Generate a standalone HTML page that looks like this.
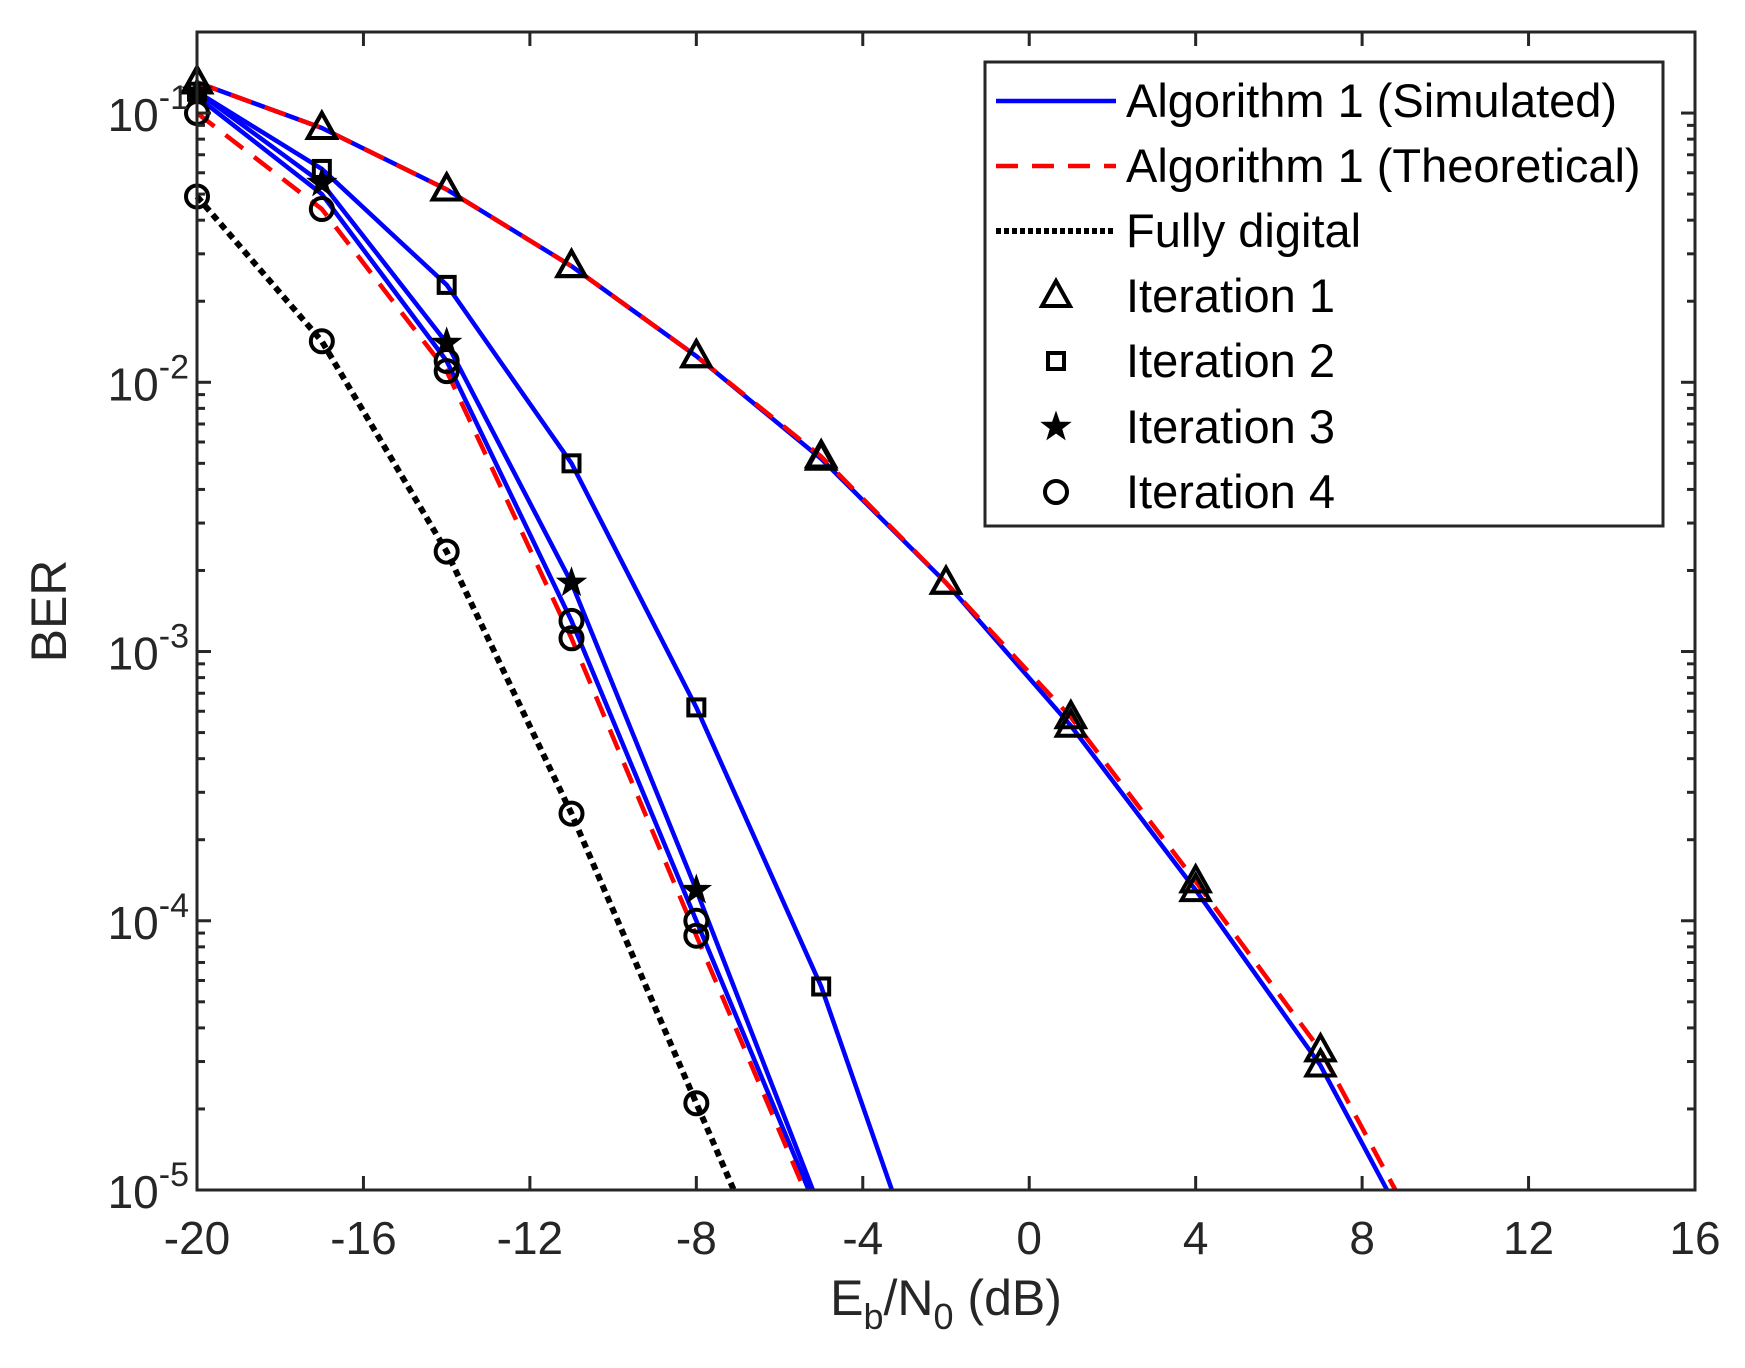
<!DOCTYPE html>
<html><head><meta charset="utf-8"><style>
html,body{margin:0;padding:0;background:#fff}
svg{display:block;font-family:"Liberation Sans",Arial,sans-serif}
</style></head><body>
<svg id="chart" width="1745" height="1368" viewBox="0 0 1745 1368" xmlns="http://www.w3.org/2000/svg">
<rect width="1745" height="1368" fill="#fff"/>
<g id="series"></g>
<g id="axes"></g>
<g id="legend"></g>
</svg>
<script>
const xTicks = [-20,-16,-12,-8,-4,0,4,8,12,16];
const yDecades = [-5,-4,-3,-2,-1];
const xPts = [-20,-17,-14,-11,-8,-5,-2,1,4,7];
const it1Sim = [0.13,0.088,0.052,0.027,0.0125,0.0052,0.0018,0.00053,0.00013,0.000029];
const it1SimEnd = [8.6,0.00001];
const it1Th = [0.13,0.088,0.052,0.027,0.0125,0.0053,0.0018,0.00057,0.00014,0.000033];
const it1ThEnd = [8.8,0.00001];
const x5 = [-20,-17,-14,-11,-8,-5];
const it2Sim = [0.12,0.062,0.023,0.005,0.00062,0.000057];
const it2End = [-3.3,0.00001];
const x4 = [-20,-17,-14,-11,-8];
const it3Sim = [0.12,0.055,0.014,0.0018,0.00013];
const it3End = [-5.2,0.00001];
const it4Sim = [0.115,0.05,0.012,0.0013,0.0001];
const it4End = [-5.3,0.00001];
const it4Th = [0.1,0.044,0.011,0.00112,0.000088];
const it4ThEnd = [-5.4,0.00001];
const fdVals = [0.049,0.0142,0.00235,0.00025,0.000021];
const fdEnd = [-7.1,0.00001];

const L=197,R=1695,T=32,B=1190;
const xMin=-20,xMax=16,yMinL=-5,yMaxL=Math.log10(0.2);
const X=v=>L+(v-xMin)/(xMax-xMin)*(R-L);
const Y=v=>B-(Math.log10(v)-yMinL)/(yMaxL-yMinL)*(B-T);
const NS="http://www.w3.org/2000/svg";
function mk(tag,attrs,parent){const e=document.createElementNS(NS,tag);for(const k in attrs)e.setAttribute(k,attrs[k]);parent.appendChild(e);return e;}
const gS=document.getElementById('series'),gA=document.getElementById('axes'),gL=document.getElementById('legend');

function line(xs,ys,end,stroke,dash,name,w){
  const pts=xs.map((x,i)=>X(x)+','+Y(ys[i]));
  if(end)pts.push(X(end[0])+','+Y(end[1]));
  const p=mk('polyline',{points:pts.join(' '),fill:'none',stroke:stroke,'stroke-width':w||4.5,'stroke-dasharray':dash||'none'},gS);
  
  
}
function marker(type,cx,cy,parent,name){
  let e;
  if(type==='tri')e=mk('polygon',{points:`${cx},${cy-15} ${cx-14},${cy+10} ${cx+14},${cy+10}`,fill:'none',stroke:'#000','stroke-width':4},parent);
  else if(type==='sq')e=mk('rect',{x:cx-8,y:cy-8,width:16,height:16,fill:'none',stroke:'#000','stroke-width':4},parent);
  else if(type==='circ')e=mk('circle',{cx:cx,cy:cy,r:11,fill:'none',stroke:'#000','stroke-width':4},parent);
  else {const p=[];for(let i=0;i<10;i++){const r=i%2?6:15,a=-Math.PI/2+i*Math.PI/5;p.push((cx+r*Math.cos(a))+','+(cy+r*Math.sin(a)));}
    e=mk('polygon',{points:p.join(' '),fill:'#000',stroke:'#000','stroke-width':1},parent);}
  
  
}
line(xPts,it1Sim,it1SimEnd,'#0000ff',null,'iteration1-simulated-line');
line(xPts,it1Th,it1ThEnd,'#ff0000','22 14','iteration1-theoretical-line');
line(x5,it2Sim,it2End,'#0000ff',null,'iteration2-simulated-line');
line(x4,it3Sim,it3End,'#0000ff',null,'iteration3-simulated-line');
line(x4,it4Sim,it4End,'#0000ff',null,'iteration4-simulated-line');
line(x4,it4Th,it4ThEnd,'#ff0000','22 14','iteration4-theoretical-line');
line(x4,fdVals,fdEnd,'#000','7 5','fully-digital-line',6);
xPts.forEach((x,i)=>{marker('tri',X(x),Y(it1Sim[i]),gS,'iteration1-sim-marker');marker('tri',X(x),Y(it1Th[i]),gS,'iteration1-th-marker');});
x5.forEach((x,i)=>marker('sq',X(x),Y(it2Sim[i]),gS,'iteration2-marker'));
x4.forEach((x,i)=>marker('star',X(x),Y(it3Sim[i]),gS,'iteration3-marker'));
x4.forEach((x,i)=>{marker('circ',X(x),Y(it4Th[i]),gS,'iteration4-marker');});
x4.slice(2).forEach((x,i)=>marker('circ',X(x),Y(it4Sim[i+2]),gS,'iteration4-sim-marker'));
x4.forEach((x,i)=>marker('circ',X(x),Y(fdVals[i]),gS,'fully-digital-marker'));

const box=mk('rect',{x:L,y:T,width:R-L,height:B-T,fill:'none',stroke:'#262626','stroke-width':3},gA);


xTicks.forEach(v=>{
  const x=X(v);
  mk('line',{x1:x,y1:B,x2:x,y2:B-14,stroke:'#262626','stroke-width':3},gA);
  mk('line',{x1:x,y1:T,x2:x,y2:T+14,stroke:'#262626','stroke-width':3},gA);
  const t=mk('text',{x:x,y:B+64,'font-size':46,'text-anchor':'middle',fill:'#262626'},gA);
  t.textContent=v;
  
  
});
yDecades.forEach(d=>{
  const y=Y(Math.pow(10,d));
  mk('line',{x1:L,y1:y,x2:L+14,y2:y,stroke:'#262626','stroke-width':3},gA);
  mk('line',{x1:R,y1:y,x2:R-14,y2:y,stroke:'#262626','stroke-width':3},gA);
  for(let m=2;m<=9;m++){const v=m*Math.pow(10,d);if(v>0.2)break;const yy=Y(v);
    mk('line',{x1:L,y1:yy,x2:L+8,y2:yy,stroke:'#262626','stroke-width':3},gA);
    mk('line',{x1:R,y1:yy,x2:R-8,y2:yy,stroke:'#262626','stroke-width':3},gA);}
  const t=mk('text',{x:L-8,y:y+18,'font-size':46,'text-anchor':'end',fill:'#262626'},gA);
  t.innerHTML='10<tspan dy="-22" font-size="34">'+d+'</tspan>';
  
  
});
const xl=mk('text',{x:(L+R)/2,y:1315,'font-size':50,'text-anchor':'middle',fill:'#262626'},gA);
xl.innerHTML='E<tspan dy="14" font-size="36">b</tspan><tspan dy="-14">/N</tspan><tspan dy="14" font-size="36">0</tspan><tspan dy="-14"> (dB)</tspan>';


const yl=mk('text',{x:0,y:0,'font-size':50,'text-anchor':'middle',fill:'#262626',transform:'translate(66,611) rotate(-90)'},gA);
yl.textContent='BER';



const lb=mk('rect',{x:985,y:62,width:678,height:464,fill:'#fff',stroke:'#262626','stroke-width':3},gL);


const legendLabels=['Algorithm 1 (Simulated)','Algorithm 1 (Theoretical)','Fully digital','Iteration 1','Iteration 2','Iteration 3','Iteration 4'];
const rowsY=[101,166,231,296,361,427,492];
legendLabels.forEach((s,i)=>{
  const y=rowsY[i];
  if(i===0)mk('line',{x1:996,y1:y,x2:1116,y2:y,stroke:'#0000ff','stroke-width':4.5},gL);
  if(i===1)mk('line',{x1:996,y1:y,x2:1116,y2:y,stroke:'#ff0000','stroke-width':4.5,'stroke-dasharray':'22 14'},gL);
  if(i===2)mk('line',{x1:996,y1:y,x2:1116,y2:y,stroke:'#000','stroke-width':6,'stroke-dasharray':'5 3'},gL);
  if(i===3)marker('tri',1056,y,gL,'legend-marker-iteration1');
  if(i===4)marker('sq',1056,y,gL,'legend-marker-iteration2');
  if(i===5)marker('star',1056,y,gL,'legend-marker-iteration3');
  if(i===6)marker('circ',1056,y,gL,'legend-marker-iteration4');
  const t=mk('text',{x:1126,y:y+16,'font-size':47,fill:'#000'},gL);
  t.textContent=s;
  
  
});
</script>
</body></html>
